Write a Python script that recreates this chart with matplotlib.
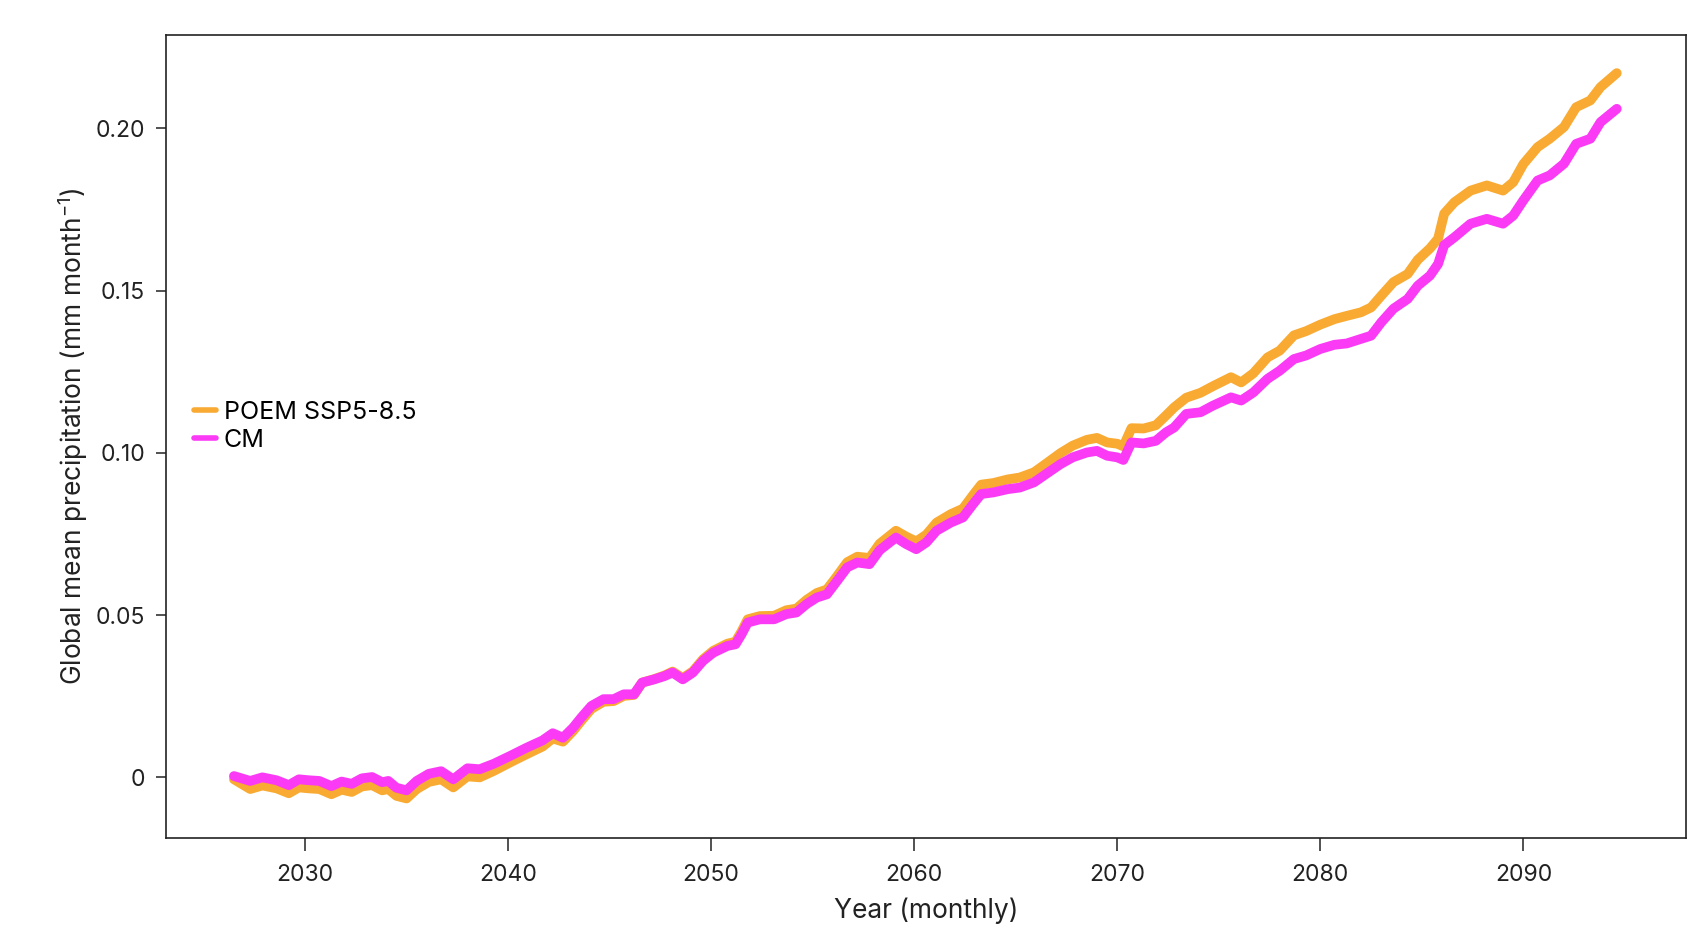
import numpy as np
import matplotlib
matplotlib.use("Agg")
from matplotlib import pyplot as plt

plt.rcParams['font.family'] = ['Inter', 'DejaVu Sans']
plt.rcParams['mathtext.default'] = 'regular'

# years (decimal) and global mean precipitation anomaly
years = [2026.5, 2027.3, 2027.9, 2028.6, 2029.2, 2029.7, 2030.2, 2030.7, 2031.3, 2031.8,
         2032.3, 2032.8, 2033.3, 2033.8, 2034.1, 2034.5, 2035.0, 2035.5, 2036.1, 2036.7,
         2037.3, 2038.0, 2038.6, 2039.3, 2040.1, 2040.9, 2041.7, 2042.2,
         2042.7, 2043.2, 2043.6, 2044.1, 2044.7, 2045.2, 2045.7, 2046.2, 2046.6, 2047.2,
         2047.7, 2048.1, 2048.6, 2049.1, 2049.6, 2050.1, 2050.8, 2051.2, 2051.5, 2051.8,
         2052.4, 2053.1, 2053.7, 2054.2, 2054.7, 2055.2, 2055.7, 2056.2, 2056.7, 2057.2,
         2057.8,
         2058.3, 2059.1, 2059.6, 2060.1, 2060.6, 2061.1, 2061.8, 2062.4, 2062.9, 2063.3,
         2063.9, 2064.6, 2065.2, 2065.9, 2066.5, 2067.2, 2067.8, 2068.5, 2069.0, 2069.5,
         2070.0, 2070.3, 2070.7, 2071.3, 2071.9, 2072.4,
         2072.8, 2073.4, 2074.1, 2074.7, 2075.6, 2076.1, 2076.7, 2077.4, 2078.0, 2078.7,
         2079.3, 2080.0, 2080.7, 2081.3, 2082.0, 2082.5, 2083.0, 2083.6, 2084.3, 2084.8,
         2085.4, 2085.8,
         2086.1, 2086.6, 2087.4, 2088.2, 2089.0, 2089.5, 2090.0, 2090.7, 2091.3, 2092.0,
         2092.6, 2093.3, 2093.8, 2094.6]

poem = [-0.0006, -0.0036, -0.0025, -0.0034, -0.0049, -0.0031, -0.0034, -0.0036, -0.0052, -0.0038,
        -0.0045, -0.0028, -0.0024, -0.0040, -0.0036, -0.0057, -0.0065, -0.0036, -0.0014, -0.0006,
        -0.0031, 0.0003, 0.0000, 0.0020, 0.0046, 0.0071, 0.0095, 0.0120,
        0.0110, 0.0143, 0.0174, 0.0211, 0.0233, 0.0235, 0.0251, 0.0254, 0.0292, 0.0303,
        0.0314, 0.0326, 0.0306, 0.0327, 0.0364, 0.0390, 0.0412, 0.0418, 0.0450, 0.0487,
        0.0497, 0.0498, 0.0515, 0.0520, 0.0547, 0.0568, 0.0579, 0.0620, 0.0663, 0.0680,
        0.0676,
        0.0720, 0.0760, 0.0742, 0.0727, 0.0748, 0.0785, 0.0811, 0.0828, 0.0870, 0.0902,
        0.0907, 0.0918, 0.0924, 0.0940, 0.0967, 0.0999, 0.1022, 0.1040, 0.1046, 0.1032,
        0.1028, 0.1020, 0.1076, 0.1075, 0.1085, 0.1115,
        0.1140, 0.1170, 0.1185, 0.1205, 0.1233, 0.1217, 0.1245, 0.1294, 0.1315, 0.1362,
        0.1375, 0.1395, 0.1412, 0.1422, 0.1433, 0.1448, 0.1484, 0.1526, 0.1551, 0.1595,
        0.1630, 0.1660,
        0.1737, 0.1772, 0.1808, 0.1824, 0.1808, 0.1834, 0.1890, 0.1942, 0.1968, 0.2004,
        0.2065, 0.2086, 0.2127, 0.2170]

cm = [0.0004, -0.0011, 0.0000, -0.0009, -0.0024, -0.0006, -0.0009, -0.0011, -0.0027, -0.0013,
      -0.0020, -0.0003, 0.0001, -0.0015, -0.0011, -0.0032, -0.0040, -0.0011, 0.0011, 0.0019,
      -0.0006, 0.0028, 0.0025, 0.0042, 0.0066, 0.0091, 0.0114, 0.0136,
      0.0122, 0.0153, 0.0184, 0.0220, 0.0241, 0.0241, 0.0256, 0.0256, 0.0292, 0.0302,
      0.0312, 0.0323, 0.0302, 0.0323, 0.0359, 0.0384, 0.0405, 0.0410, 0.0441, 0.0477,
      0.0487, 0.0487, 0.0503, 0.0508, 0.0534, 0.0554, 0.0564, 0.0605, 0.0647, 0.0662,
      0.0657,
      0.0700, 0.0739, 0.0719, 0.0703, 0.0724, 0.0760, 0.0785, 0.0801, 0.0842, 0.0873,
      0.0878, 0.0888, 0.0893, 0.0909, 0.0935, 0.0965, 0.0986, 0.1001, 0.1006, 0.0991,
      0.0986, 0.0978, 0.1032, 0.1029, 0.1037, 0.1063,
      0.1078, 0.1120, 0.1125, 0.1145, 0.1171, 0.1161, 0.1186, 0.1228, 0.1253, 0.1289,
      0.1300, 0.1320, 0.1333, 0.1337, 0.1351, 0.1361, 0.1402, 0.1444, 0.1474, 0.1515,
      0.1546, 0.1582,
      0.1640, 0.1664, 0.1706, 0.1721, 0.1706, 0.1731, 0.1778, 0.1839, 0.1855, 0.1891,
      0.1952, 0.1968, 0.2019, 0.2060]

xticks = [2030, 2040, 2050, 2060, 2070, 2080, 2090]
yticks = [0, 0.05, 0.10, 0.15, 0.20]
ytick_labels = ["0", "0.05", "0.10", "0.15", "0.20"]

fig = plt.figure(figsize=(17.02, 9.25), dpi=100)
ax = fig.add_axes([0.0975, 0.094, 0.893, 0.868])

ax.plot(years, poem, color="#F9AA33", lw=7, solid_capstyle="round",
        solid_joinstyle="round", label="POEM SSP5-8.5")
ax.plot(years, cm, color="#FA3AF5", lw=7, solid_capstyle="round",
        solid_joinstyle="round", label="CM")

ax.set_xlim(2023.15, 2098.0)
ax.set_ylim(-0.0187, 0.2287)
ax.set_xticks(xticks)
ax.set_yticks(yticks)
ax.set_yticklabels(ytick_labels)
ax.tick_params(axis="x", length=9, width=1.1, labelsize=16.5, pad=10, colors="#222222")
ax.tick_params(axis="y", length=7, width=1.1, labelsize=16.5, pad=8, colors="#222222")
for s in ax.spines.values():
    s.set_linewidth(1.2)
    s.set_color("#222222")

ax.set_xlabel("Year (monthly)", fontsize=19, color="#222222", labelpad=8)
ax.set_ylabel("Global mean precipitation (mm month$^{-1}$)", fontsize=19,
              color="#222222", labelpad=4)

leg = ax.legend(loc="center left", bbox_to_anchor=(0.005, 0.513), frameon=False,
                fontsize=18, handlelength=0.9, handletextpad=0.3, labelspacing=0.2,
                borderaxespad=0.4)
for line in leg.get_lines():
    line.set_linewidth(4)

fig.savefig("out.png", dpi=100)
